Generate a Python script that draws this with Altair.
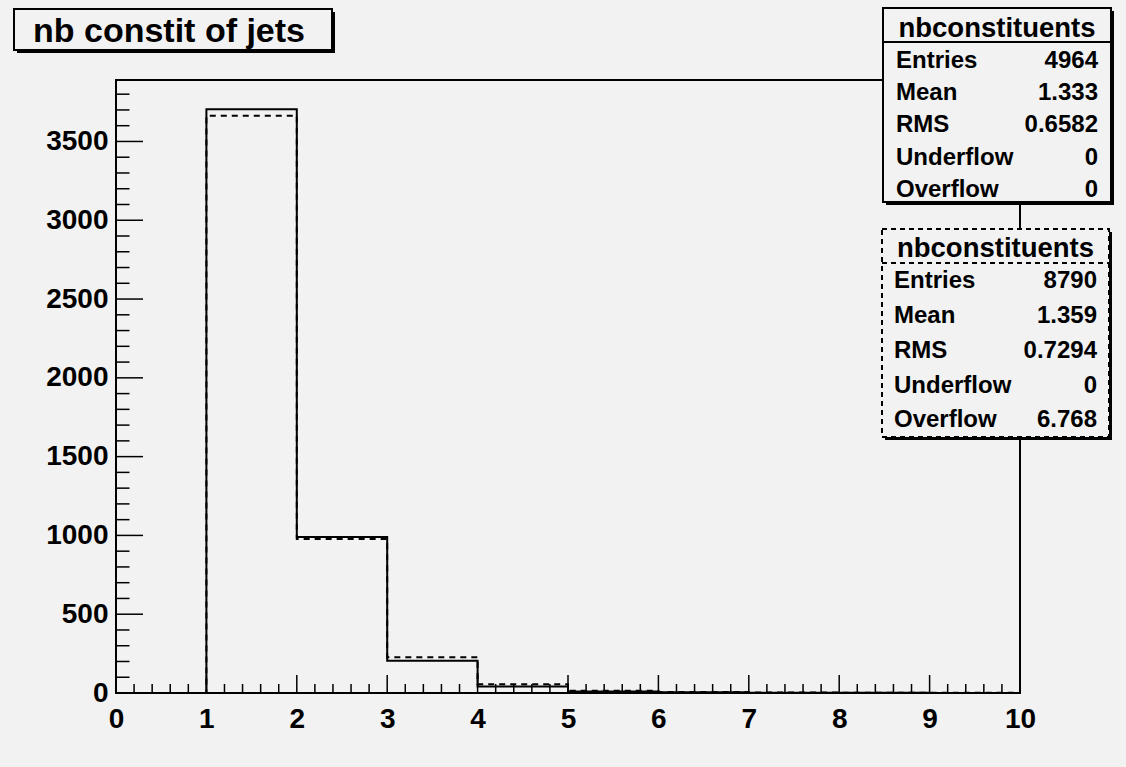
import altair as alt
import pandas as pd

# ---------------- data ----------------
hist_title = "nb constit of jets"
hist_name = "nbconstituents"
bin_edges = list(range(11))                       # 0 .. 10
counts_solid = [0, 3705, 990, 205, 42, 10, 4, 2, 1, 0]
counts_dashed = [0, 3663, 978, 227, 55, 14, 6, 3, 1, 1]

x_major = list(range(11))
x_minor = [i / 5 for i in range(51) if i % 5]
y_major = list(range(0, 4000, 500))
y_minor = [v for v in range(0, 3900, 100) if v % 500]

stat_labels = ["Entries", "Mean", "RMS", "Underflow", "Overflow"]
stats_solid = ["4964", "1.333", "0.6582", "0", "0"]
stats_dashed = ["8790", "1.359", "0.7294", "0", "6.768"]

# ---------------- layout ----------------
W, H = 904, 613
PAD_L, PAD_T = 116, 80
YMAX = 3890
BG = "#f2f2f2"
FONT = "Liberation Sans"

xs = alt.Scale(domain=[0, 10], nice=False, zero=False)
ys = alt.Scale(domain=[0, YMAX], nice=False)

xaxis = alt.Axis(values=x_major, format="d", labelFont=FONT, labelFontWeight="bold", labelFontSize=28,
                 labelColor="black", labelPadding=12, labelFlush=False, ticks=False, tickSize=0,
                 domain=False, grid=False, title=None, labelBaseline="top")
yaxis = alt.Axis(values=y_major, format="d", labelFont=FONT, labelFontWeight="bold", labelFontSize=28,
                 labelColor="black", labelPadding=8, labelFlush=False, ticks=False, tickSize=0,
                 domain=False, grid=False, title=None)

dummy = pd.DataFrame({"k": [0]})
layers = []


def hist_df(counts):
    return pd.DataFrame({"x": bin_edges, "y": counts + [counts[-1]]})


# frame
layers.append(alt.Chart(dummy).mark_rect(fill="transparent", stroke="black", strokeWidth=2).encode(
    x=alt.value(0), x2=alt.value(W), y=alt.value(0), y2=alt.value(H)))

# ticks (inward)
layers.append(alt.Chart(pd.DataFrame({"x": x_major})).mark_rule(color="black", strokeWidth=1.5).encode(
    x=alt.X("x:Q", scale=xs, axis=xaxis), y=alt.value(H), y2=alt.value(H - 18)))
layers.append(alt.Chart(pd.DataFrame({"x": x_minor})).mark_rule(color="black", strokeWidth=1.5).encode(
    x=alt.X("x:Q", scale=xs, axis=xaxis), y=alt.value(H), y2=alt.value(H - 9)))
layers.append(alt.Chart(pd.DataFrame({"y": y_major})).mark_rule(color="black", strokeWidth=1.5).encode(
    y=alt.Y("y:Q", scale=ys, axis=yaxis), x=alt.value(0), x2=alt.value(27)))
layers.append(alt.Chart(pd.DataFrame({"y": y_minor})).mark_rule(color="black", strokeWidth=1.5).encode(
    y=alt.Y("y:Q", scale=ys, axis=yaxis), x=alt.value(0), x2=alt.value(13.5)))

# histograms
layers.append(alt.Chart(hist_df(counts_dashed)).mark_line(
    interpolate="step-after", color="black", strokeWidth=2, strokeDash=[6, 5]).encode(
    x=alt.X("x:Q", scale=xs, axis=xaxis), y=alt.Y("y:Q", scale=ys, axis=yaxis)))
layers.append(alt.Chart(hist_df(counts_solid)).mark_line(
    interpolate="step-after", color="black", strokeWidth=2).encode(
    x=alt.X("x:Q", scale=xs, axis=xaxis), y=alt.Y("y:Q", scale=ys, axis=yaxis)))


def box(x0, y0, x1, y1, dash=None, shadow=3):
    out = []
    out.append(alt.Chart(dummy).mark_rect(color="black").encode(
        x=alt.value(x0 + shadow), x2=alt.value(x1 + shadow),
        y=alt.value(y0 + shadow), y2=alt.value(y1 + shadow)))
    kw = dict(fill=BG, stroke="black", strokeWidth=2)
    if dash:
        kw["strokeDash"] = dash
    out.append(alt.Chart(dummy).mark_rect(**kw).encode(
        x=alt.value(x0), x2=alt.value(x1), y=alt.value(y0), y2=alt.value(y1)))
    return out


def text(x, y, s, size, align):
    return alt.Chart(dummy).mark_text(font=FONT, fontWeight="bold", fontSize=size, align=align,
                                      baseline="alphabetic", color="black").encode(
        x=alt.value(x), y=alt.value(y), text=alt.value(s))


# title box
ox, oy = -PAD_L, -PAD_T
layers += box(14 + ox, 9 + oy, 332 + ox, 50 + oy)
layers.append(text(33 + ox, 42 + oy, hist_title, 34, "left"))


def stats_box(x0, y0, x1, y1, head_line, head_base, row_bases, lx, rx, values, dash=None):
    res = box(x0 + ox, y0 + oy, x1 + ox, y1 + oy, dash=dash)
    kw = dict(color="black", strokeWidth=2)
    if dash:
        kw["strokeDash"] = dash
    res.append(alt.Chart(dummy).mark_rule(**kw).encode(
        x=alt.value(x0 + ox), x2=alt.value(x1 + ox), y=alt.value(head_line + oy)))
    res.append(text((x0 + x1) / 2 + ox, head_base + oy, hist_name, 27.5, "center"))
    for yb, lab, val in zip(row_bases, stat_labels, values):
        res.append(text(lx + ox, yb + oy, lab, 24, "left"))
        res.append(text(rx + ox, yb + oy, val, 24, "right"))
    return res


layers += stats_box(883, 8, 1111, 202, 42, 37, [68.3, 100, 132.3, 165, 197.3], 896, 1098, stats_solid)
layers += stats_box(882, 229, 1109, 437, 263, 257, [288.3, 323.3, 358.3, 393.3, 427.3], 894, 1097,
                    stats_dashed, dash=[5, 4])

chart = alt.layer(*layers).properties(
    width=W, height=H, autosize="none",
    padding={"left": PAD_L, "top": PAD_T, "right": 1126 - PAD_L - W, "bottom": 767 - PAD_T - H},
    background=BG,
).configure_view(stroke=None, fill=BG)

chart.save("out.html", embed_options={"renderer": "svg", "actions": False})
